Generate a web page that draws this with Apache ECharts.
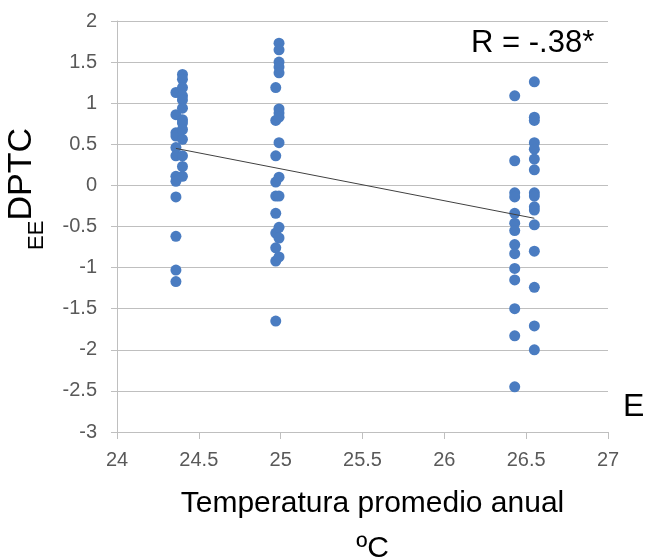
<!DOCTYPE html>
<html>
<head>
<meta charset="utf-8">
<script src="https://cdn.jsdelivr.net/npm/echarts@6/dist/echarts.min.js"></script>
<style>
  html, body { margin: 0; padding: 0; background: #fff; }
  #chart-container { width: 647px; height: 557px; }
</style>
</head>
<body>
<div id="chart-container"></div>
<script>
var dom = document.getElementById("chart-container");
var myChart = echarts.init(dom, null, { renderer: "canvas" });

// each column of points sits on (about) the same temperature
var colX = [24.36, 24.4, 24.97, 24.99, 26.43, 26.55];
var colY = [
  [1.13, 0.86, 0.64, 0.6, 0.46, 0.36, 0.11, 0.05, -0.14, -0.62, -1.03, -1.17],
  [1.35, 1.29, 1.19, 1.09, 1.04, 0.94, 0.8, 0.76, 0.68, 0.56, 0.36, 0.23, 0.11],
  [1.19, 0.79, 0.36, 0.04, -0.13, -0.34, -0.58, -0.76, -0.92, -1.65],
  [1.73, 1.65, 1.5, 1.44, 1.37, 0.93, 0.88, 0.83, 0.52, 0.1, -0.13, -0.51, -0.64, -0.87],
  [1.09, 0.3, -0.09, -0.14, -0.34, -0.46, -0.55, -0.72, -0.83, -1.01, -1.15, -1.5, -1.83, -2.45],
  [1.26, 0.83, 0.79, 0.52, 0.44, 0.32, 0.19, -0.09, -0.13, -0.26, -0.3, -0.48, -0.8, -1.24, -1.71, -2.0]
];
// trend line end points
var trendX = [24.36, 26.55];
var trendY = [0.45, -0.4];

var points = [];
colX.forEach(function (x, i) {
  colY[i].forEach(function (y) {
    points.push([x, y]);
  });
});

var font = "'Liberation Sans', Arial, sans-serif";
var gridColor = "#bfbfbf";

var option = {
  animation: false,
  textStyle: { fontFamily: font },
  title: [
    {
      text: "R = -.38*",
      left: 466,
      top: 23,
      textStyle: { fontSize: 31, fontWeight: "normal", color: "#000", fontFamily: font }
    },
    {
      text: "E",
      left: 618,
      top: 386,
      textStyle: { fontSize: 32, fontWeight: "normal", color: "#000", fontFamily: font }
    }
  ],
  grid: { left: 117, right: 39, top: 21, bottom: 125, outerBoundsMode: "none", containLabel: false },
  xAxis: {
    type: "value",
    min: 24,
    max: 27,
    interval: 0.5,
    name: "Temperatura promedio anual\nºC",
    nameLocation: "middle",
    nameGap: 49,
    nameTextStyle: {
      fontSize: 30,
      color: "#000",
      lineHeight: 45,
      padding: [0, 0, 0, 20],
      verticalAlign: "top"
    },
    axisLine: { show: true, onZero: false, lineStyle: { color: gridColor } },
    axisTick: { show: true, inside: false, length: 7, lineStyle: { color: gridColor } },
    axisLabel: { fontSize: 20, color: "#595959", margin: 18 },
    splitLine: { show: false }
  },
  yAxis: {
    type: "value",
    min: -3,
    max: 2,
    interval: 0.5,
    name: "{sub|EE}{main|DPTC}",
    nameLocation: "middle",
    nameRotate: 90,
    nameGap: 69,
    nameTextStyle: {
      padding: [0, 0, 0, 75],
      rich: {
        main: { fontSize: 34, color: "#000", fontFamily: font, verticalAlign: "bottom", padding: [0, 0, 9, 0] },
        sub: { fontSize: 22, color: "#000", fontFamily: font, verticalAlign: "bottom" }
      }
    },
    axisLine: { show: true, onZero: false, lineStyle: { color: gridColor } },
    axisTick: { show: true, inside: false, length: 6, lineStyle: { color: gridColor } },
    axisLabel: { fontSize: 20, color: "#595959", margin: 20 },
    splitLine: { show: true, lineStyle: { color: gridColor, width: 1 } }
  },
  series: [
    {
      type: "scatter",
      symbol: "circle",
      symbolSize: 11,
      itemStyle: { color: "#4a7cc1", opacity: 1 },
      data: points,
      z: 2
    },
    {
      type: "line",
      data: trendX.map(function (x, i) { return [x, trendY[i]]; }),
      symbol: "none",
      lineStyle: { color: "#404040", width: 1 },
      z: 3
    }
  ]
};

myChart.setOption(option);
</script>
</body>
</html>
